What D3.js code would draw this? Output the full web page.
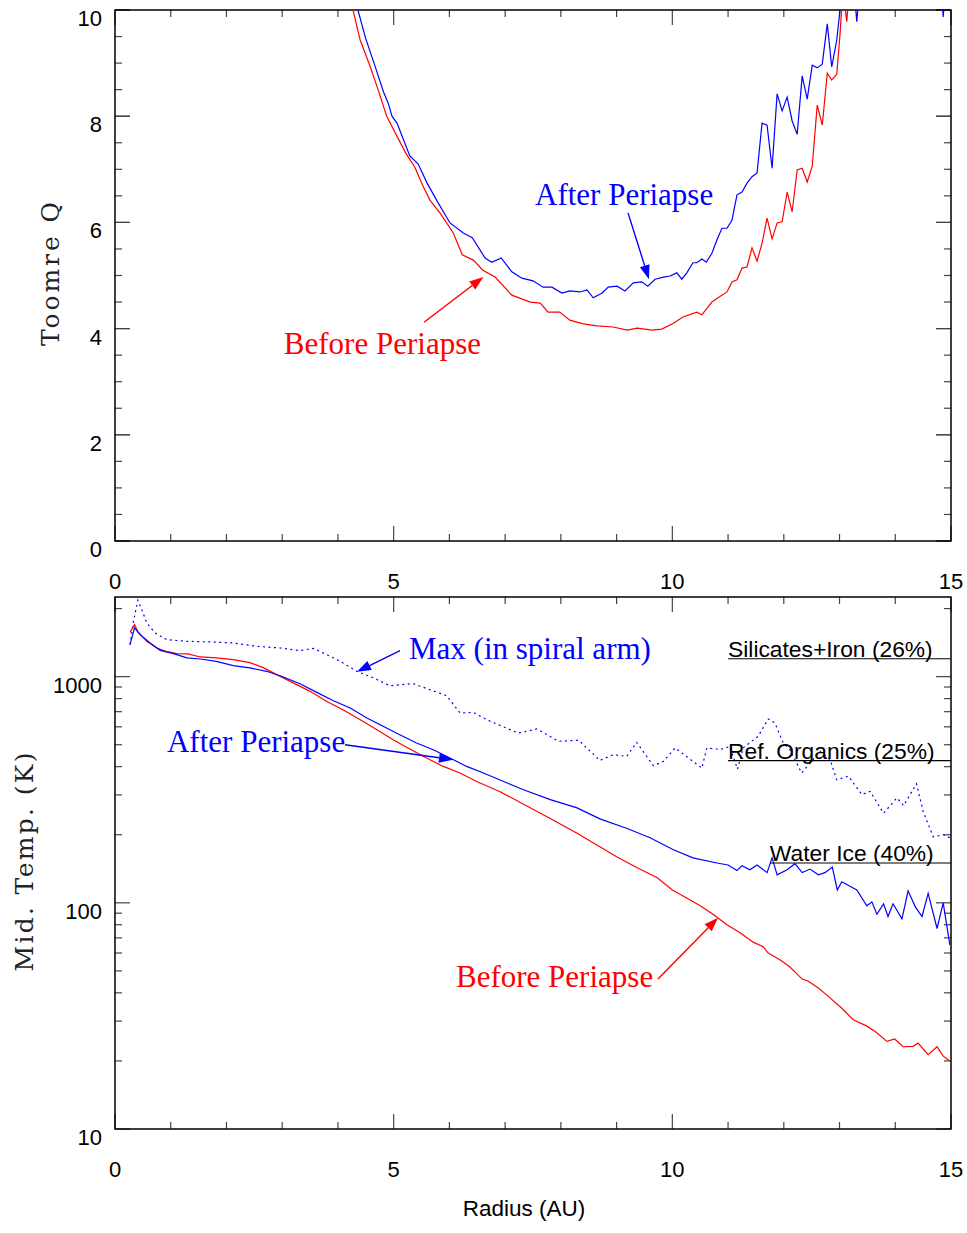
<!DOCTYPE html>
<html><head><meta charset="utf-8">
<script src="https://cdn.jsdelivr.net/npm/d3@7"></script>
<style>body{margin:0;background:#fff}svg{display:block}</style>
</head><body>
<svg id="chart" width="967" height="1233"></svg>
<script>
// ---------- DATA ----------
// Top panel: Toomre Q vs radius (AU)
const qRadiusBefore = [4.10,4.27,4.40,4.58,4.72,4.875,5.06,5.22,5.38,5.52,5.65,5.83,6.07,6.23,6.43,6.60,6.82,7.12,7.45,7.63,7.77,7.98,8.16,8.40,8.65,8.94,9.19,9.37,9.64,9.81,10.02,10.19,10.44,10.53,10.71,10.82,10.98,11.07,11.16,11.25,11.34,11.43,11.52,11.61,11.70,11.79,11.88,11.97,12.06,12.15,12.24,12.33,12.42,12.51,12.60,12.69,12.78,12.86,12.95,13.01,13.06,13.13,13.20,13.40,15.0];
const qBefore = [11.0,10.0,9.43,8.93,8.50,8.00,7.62,7.30,7.04,6.70,6.42,6.18,5.80,5.39,5.29,5.10,4.97,4.63,4.50,4.48,4.31,4.31,4.16,4.09,4.05,4.03,3.97,4.01,3.97,3.99,4.10,4.22,4.31,4.26,4.50,4.58,4.69,4.88,4.92,5.14,5.16,5.52,5.27,5.61,6.08,5.69,5.99,6.01,6.57,6.20,6.99,7.02,6.76,7.06,8.21,7.83,8.81,8.68,8.79,9.56,10.4,9.78,10.8,12.0,14.0];
const qRadiusAfter = [4.20,4.36,4.49,4.67,4.82,4.90,4.97,5.06,5.29,5.44,5.60,5.78,6.01,6.25,6.41,6.64,6.76,6.93,7.12,7.30,7.50,7.68,7.84,8.02,8.16,8.34,8.47,8.58,8.74,8.85,9.01,9.15,9.30,9.45,9.56,9.69,9.84,9.96,10.08,10.17,10.26,10.37,10.44,10.53,10.61,10.71,10.80,10.89,10.98,11.07,11.16,11.25,11.34,11.43,11.52,11.61,11.70,11.79,11.88,11.97,12.06,12.15,12.24,12.33,12.42,12.51,12.60,12.69,12.78,12.86,12.95,13.05,13.15,13.25,13.31,13.40,14.00,14.80,14.86,14.95,15.0];
const qAfter = [11.0,10.0,9.49,8.93,8.45,8.25,8.00,7.87,7.25,7.10,6.74,6.40,5.99,5.80,5.71,5.33,5.25,5.33,5.07,4.95,4.90,4.78,4.78,4.67,4.71,4.69,4.73,4.58,4.67,4.78,4.80,4.71,4.86,4.88,4.80,4.93,4.97,4.99,5.05,4.93,5.05,5.24,5.24,5.31,5.25,5.42,5.67,5.89,5.89,6.04,6.52,6.57,6.74,6.86,6.93,7.87,7.83,7.02,8.42,8.10,8.36,7.91,7.66,8.76,8.32,8.96,8.91,8.98,9.74,8.93,9.43,10.4,11.0,10.5,9.78,11.0,12.0,11.0,9.87,11.0,11.5];

// Bottom panel: midplane temperature (K) vs radius (AU)
const tRadiusBefore = [0.27,0.35,0.41,0.57,0.75,0.93,1.11,1.31,1.53,1.82,2.12,2.42,2.66,2.90,3.19,3.50,3.80,4.09,4.40,4.70,4.99,5.29,5.59,5.89,6.19,6.49,6.91,7.39,7.81,8.29,8.70,9.00,9.37,9.73,10.00,10.32,10.50,10.73,10.98,11.21,11.45,11.63,11.72,11.93,12.11,12.33,12.44,12.62,12.83,13.05,13.24,13.49,13.64,13.85,13.99,14.14,14.32,14.41,14.59,14.75,14.86,14.98];
const tBefore = [1570,1699,1582,1433,1339,1290,1264,1260,1222,1210,1189,1153,1096,1021,941,861,777,714,645,583,526,479,437,401,375,344,310,268,236,203,177,160,143,129,114,103,97,89,80,74,67,64,60,56,52,46,45,42,38,34,30.5,28.5,27,24.4,25,23.1,23.2,24,21.3,23.1,21,20];
const tRadiusAfter = [0.27,0.35,0.45,0.63,0.81,1.05,1.29,1.53,1.82,2.12,2.42,2.72,3.02,3.32,3.62,3.92,4.22,4.52,4.81,5.11,5.41,5.71,6.01,6.31,6.61,6.91,7.33,7.81,8.29,8.70,9.19,9.60,10.01,10.37,10.80,11.00,11.16,11.25,11.39,11.52,11.70,11.79,11.88,12.06,12.20,12.33,12.47,12.62,12.74,12.87,12.96,13.04,13.31,13.49,13.58,13.67,13.79,13.87,13.96,14.12,14.23,14.36,14.48,14.59,14.75,14.86,14.98];
const tAfter = [1385,1643,1534,1410,1307,1264,1210,1197,1169,1119,1093,1056,997,931,852,783,727,656,603,554,509,475,437,401,375,349,316,286,263,235,213,194,172,158,150,147,139,146,140,147,136,158,133,140,149,136,141,133,136,144,114,124,114,97,101,89,99,87,99,85,113,96,87,110,77,100,65];
const tRadiusMax = [0.27,0.33,0.41,0.48,0.57,0.72,0.93,1.29,1.70,2.12,2.54,2.96,3.32,3.56,3.80,4.04,4.34,4.64,4.93,5.35,5.65,5.95,6.19,6.43,6.67,6.91,7.24,7.57,7.96,8.32,8.70,8.94,9.18,9.36,9.66,9.84,10.05,10.29,10.53,10.62,10.86,11.03,11.17,11.27,11.54,11.72,11.84,11.99,12.11,12.32,12.47,12.65,12.83,12.95,13.16,13.40,13.55,13.79,14.03,14.15,14.38,14.50,14.68,14.86,14.98];
const tMax = [1385,1750,2176,1980,1727,1560,1458,1433,1424,1409,1362,1339,1303,1334,1251,1169,1056,987,912,931,876,824,691,695,645,608,563,587,518,523,426,452,444,512,404,422,484,437,394,484,476,491,390,484,545,650,624,509,476,375,415,467,430,350,363,301,311,249,291,269,336,254,196,200,194];

// Condensation temperatures (K) with labels
const condNames = ["Silicates+Iron (26%)","Ref. Organics (25%)","Water Ice (40%)"];
const condTemps = [1200,425,150];
const condStartR = [11.0,11.0,11.75];

// Axis ticks
const xMajor = [0,5,10,15];
const xMinor = d3.range(0,16,1);
const qMajor = [0,2,4,6,8,10];
const qMinor = d3.range(0,10.01,0.5);
const tMajor = [10,100,1000];
const tMinor = [20,30,40,50,60,70,80,90,200,300,400,500,600,700,800,900,2000];

// ---------- LAYOUT ----------
const svg = d3.select("#chart");
const L = 115, R = 951;
const top1 = 10, bot1 = 541, top2 = 597, bot2 = 1129;
const x = d3.scaleLinear([0,15],[L,R]);
const yQ = d3.scaleLinear([0,10],[bot1,top1]);
const yT = d3.scaleLog([10,2250],[bot2,top2]);

const BLUE = "#0000ff", RED = "#ff0000";
const SANS = "'Liberation Sans', Arial, Helvetica, sans-serif";
const SERIF = "'Liberation Serif', 'Times New Roman', serif";

const defs = svg.append("defs");
defs.append("clipPath").attr("id","clip1").append("rect").attr("x",L).attr("y",top1).attr("width",R-L).attr("height",bot1-top1);
defs.append("clipPath").attr("id","clip2").append("rect").attr("x",L).attr("y",top2).attr("width",R-L).attr("height",bot2-top2);

function frame(y, yt, yb, majors, allY) {
  const g = svg.append("g");
  const tk = "#444";
  xMinor.forEach(v => {
    const len = xMajor.includes(v) ? 15 : 7;
    g.append("line").attr("x1",x(v)).attr("x2",x(v)).attr("y1",yb).attr("y2",yb-len).attr("stroke",tk).attr("stroke-width",1.2);
    g.append("line").attr("x1",x(v)).attr("x2",x(v)).attr("y1",yt).attr("y2",yt+len).attr("stroke",tk).attr("stroke-width",1.2);
  });
  allY.forEach(v => {
    const len = majors.includes(v) ? 15 : 7;
    g.append("line").attr("x1",L).attr("x2",L+len).attr("y1",y(v)).attr("y2",y(v)).attr("stroke",tk).attr("stroke-width",1.2);
    g.append("line").attr("x1",R).attr("x2",R-len).attr("y1",y(v)).attr("y2",y(v)).attr("stroke",tk).attr("stroke-width",1.2);
  });
  g.append("rect").attr("x",L).attr("y",yt).attr("width",R-L).attr("height",yb-yt)
    .attr("fill","none").attr("stroke","#000").attr("stroke-width",1.5);
  xMajor.forEach(v => {
    g.append("text").attr("x",x(v)).attr("y",yb+48).attr("text-anchor","middle")
      .attr("font-family",SANS).attr("font-size",22).attr("fill","#000").text(v);
  });
  majors.forEach(v => {
    g.append("text").attr("x",102).attr("y",y(v)+16).attr("text-anchor","end")
      .attr("font-family",SANS).attr("font-size",22).attr("fill","#000").text(v);
  });
}
frame(yQ, top1, bot1, qMajor, [...qMinor, ...qMajor]);
frame(yT, top2, bot2, tMajor, [...tMinor, ...tMajor]);

// Axis titles
svg.append("text").attr("transform",`translate(59,274) rotate(-90)`).attr("text-anchor","middle")
  .attr("font-family","'DejaVu Serif', serif").attr("font-size",25).attr("fill","#222")
  .attr("textLength",144).attr("lengthAdjust","spacing").text("Toomre Q");
svg.append("text").attr("transform",`translate(33,862) rotate(-90)`).attr("text-anchor","middle")
  .attr("font-family","'DejaVu Serif', serif").attr("font-size",25).attr("fill","#222")
  .attr("textLength",219).attr("lengthAdjust","spacing").text("Mid. Temp. (K)");
svg.append("text").attr("x",524).attr("y",1216).attr("text-anchor","middle")
  .attr("font-family",SANS).attr("font-size",22.5).attr("fill","#000").text("Radius (AU)");

// ---------- LINES ----------
function series(rs, vs) { return rs.map((r,i)=>({r, v: vs[i]})); }
const lineQ = d3.line().x(d=>x(d.r)).y(d=>yQ(d.v));
const lineT = d3.line().x(d=>x(d.r)).y(d=>yT(d.v));

const g1 = svg.append("g").attr("clip-path","url(#clip1)");
g1.append("path").datum(series(qRadiusBefore,qBefore)).attr("d",lineQ).attr("fill","none").attr("stroke",RED).attr("stroke-width",1.2);
g1.append("path").datum(series(qRadiusAfter,qAfter)).attr("d",lineQ).attr("fill","none").attr("stroke",BLUE).attr("stroke-width",1.2);

const g2 = svg.append("g").attr("clip-path","url(#clip2)");
g2.append("path").datum(series(tRadiusMax,tMax)).attr("d",lineT).attr("fill","none").attr("stroke",BLUE).attr("stroke-width",1.2).attr("stroke-dasharray","2,3.5");
g2.append("path").datum(series(tRadiusBefore,tBefore)).attr("d",lineT).attr("fill","none").attr("stroke",RED).attr("stroke-width",1.2);
g2.append("path").datum(series(tRadiusAfter,tAfter)).attr("d",lineT).attr("fill","none").attr("stroke",BLUE).attr("stroke-width",1.2);

// Condensation lines
condNames.forEach((name,i) => {
  svg.append("line").attr("x1",x(condStartR[i])).attr("x2",R).attr("y1",yT(condTemps[i])).attr("y2",yT(condTemps[i]))
    .attr("stroke","#000").attr("stroke-width",1.2);
  svg.append("text").attr("x",x(condStartR[i])).attr("y",yT(condTemps[i])-2)
    .attr("font-family",SANS).attr("font-size",22.8).attr("fill","#000").text(name);
});

// ---------- ANNOTATIONS ----------
function arrow(xs, ys, x0, y0, x1, y1, color) {
  const X0 = xs(x0), Y0 = ys(y0), X1 = xs(x1), Y1 = ys(y1);
  const a = Math.atan2(Y1-Y0, X1-X0);
  const hl = 14, hw = 5;
  const bx = X1 - hl*Math.cos(a), by = Y1 - hl*Math.sin(a);
  svg.append("line").attr("x1",X0).attr("y1",Y0).attr("x2",bx).attr("y2",by).attr("stroke",color).attr("stroke-width",1.4);
  svg.append("path").attr("d",`M${X1},${Y1}L${bx - hw*Math.sin(a)},${by + hw*Math.cos(a)}L${bx + hw*Math.sin(a)},${by - hw*Math.cos(a)}Z`).attr("fill",color);
}
function label(xs, ys, xv, yv, txt, color) {
  svg.append("text").attr("x",xs(xv)).attr("y",ys(yv)).attr("font-family",SERIF)
    .attr("font-size",31).attr("fill",color).text(txt);
}
label(x, yQ, 7.536, 6.33, "After Periapse", BLUE);
arrow(x, yQ, 9.205, 6.18, 9.58, 4.93, BLUE);
label(x, yQ, 3.03, 3.52, "Before Periapse", RED);
arrow(x, yQ, 5.545, 4.12, 6.61, 4.97, RED);

label(x, yT, 5.275, 1201, "Max (in spiral arm)", BLUE);
arrow(x, yT, 5.114, 1303, 4.342, 1052, BLUE);
label(x, yT, 0.933, 466, "After Periapse", BLUE);
arrow(x, yT, 4.127, 500, 6.065, 429.5, BLUE);
label(x, yT, 6.119, 42.5, "Before Periapse", RED);
arrow(x, yT, 9.743, 46.1, 10.82, 85.8, RED);
</script>
</body></html>
